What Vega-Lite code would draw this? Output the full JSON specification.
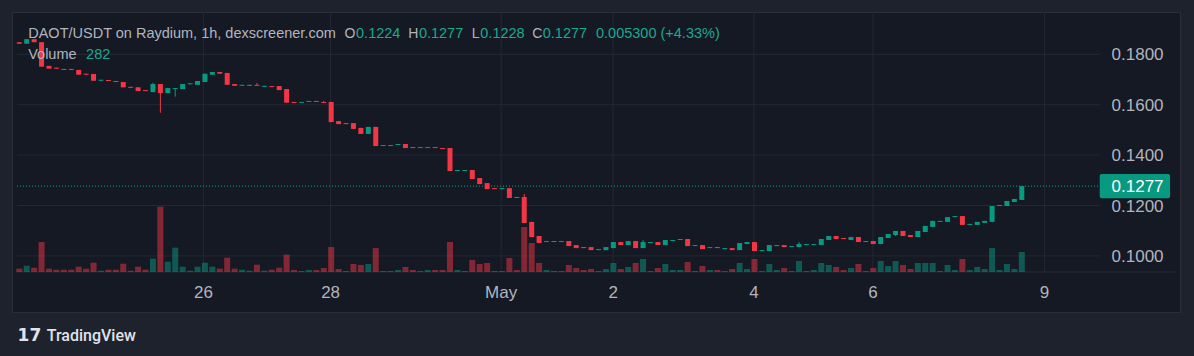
{
  "$schema": "https://vega.github.io/schema/vega-lite/v6.json",
  "width": 1168,
  "height": 300,
  "autosize": {"type": "none"},
  "padding": {"left": 12, "top": 12, "right": 14, "bottom": 44},
  "background": "#1e222d",
  "config": {
    "view": {"fill": "#151924", "stroke": "#2a2e39", "strokeWidth": 1},
    "text": {"font": "Liberation Sans"}
  },
  "datasets": {
    "candles": [
      {"i":1,"o":0.1848,"c":0.1842,"h":0.1848,"l":0.1842,"v":47},
      {"i":2,"o":0.1842,"c":0.1860,"h":0.1860,"l":0.1842,"v":89},
      {"i":3,"o":0.1860,"c":0.1848,"h":0.1860,"l":0.1848,"v":61},
      {"i":4,"o":0.1848,"c":0.1751,"h":0.1848,"l":0.1751,"v":423},
      {"i":5,"o":0.1754,"c":0.1743,"h":0.1754,"l":0.1743,"v":47},
      {"i":6,"o":0.1747,"c":0.1743,"h":0.1747,"l":0.1743,"v":32},
      {"i":7,"o":0.1742,"c":0.1738,"h":0.1742,"l":0.1738,"v":32},
      {"i":8,"o":0.1742,"c":0.1738,"h":0.1742,"l":0.1738,"v":32},
      {"i":9,"o":0.1738,"c":0.1719,"h":0.1738,"l":0.1719,"v":75},
      {"i":10,"o":0.1723,"c":0.1719,"h":0.1723,"l":0.1719,"v":47},
      {"i":11,"o":0.1722,"c":0.1695,"h":0.1722,"l":0.1695,"v":131},
      {"i":12,"o":0.1695,"c":0.1699,"h":0.1699,"l":0.1695,"v":18},
      {"i":13,"o":0.1698,"c":0.1694,"h":0.1698,"l":0.1694,"v":32},
      {"i":14,"o":0.1694,"c":0.1690,"h":0.1694,"l":0.1690,"v":32},
      {"i":15,"o":0.1690,"c":0.1669,"h":0.1690,"l":0.1669,"v":117},
      {"i":16,"o":0.1671,"c":0.1667,"h":0.1671,"l":0.1667,"v":18},
      {"i":17,"o":0.1669,"c":0.1654,"h":0.1669,"l":0.1654,"v":75},
      {"i":18,"o":0.1658,"c":0.1654,"h":0.1658,"l":0.1654,"v":32},
      {"i":19,"o":0.1650,"c":0.1682,"h":0.1687,"l":0.1650,"v":188},
      {"i":20,"o":0.1682,"c":0.1646,"h":0.1682,"l":0.1568,"v":921},
      {"i":21,"o":0.1646,"c":0.1666,"h":0.1666,"l":0.1646,"v":145},
      {"i":22,"o":0.1662,"c":0.1666,"h":0.1666,"l":0.1632,"v":343},
      {"i":23,"o":0.1662,"c":0.1682,"h":0.1682,"l":0.1662,"v":75},
      {"i":24,"o":0.1681,"c":0.1685,"h":0.1685,"l":0.1681,"v":18},
      {"i":25,"o":0.1679,"c":0.1694,"h":0.1694,"l":0.1679,"v":75},
      {"i":26,"o":0.1690,"c":0.1723,"h":0.1723,"l":0.1690,"v":131},
      {"i":27,"o":0.1719,"c":0.1730,"h":0.1730,"l":0.1719,"v":75},
      {"i":28,"o":0.1730,"c":0.1723,"h":0.1730,"l":0.1723,"v":47},
      {"i":29,"o":0.1726,"c":0.1679,"h":0.1726,"l":0.1679,"v":202},
      {"i":30,"o":0.1682,"c":0.1675,"h":0.1682,"l":0.1675,"v":47},
      {"i":31,"o":0.1675,"c":0.1679,"h":0.1679,"l":0.1675,"v":32},
      {"i":32,"o":0.1675,"c":0.1679,"h":0.1679,"l":0.1675,"v":18},
      {"i":33,"o":0.1679,"c":0.1675,"h":0.1686,"l":0.1675,"v":103},
      {"i":34,"o":0.1671,"c":0.1675,"h":0.1675,"l":0.1671,"v":18},
      {"i":35,"o":0.1674,"c":0.1670,"h":0.1674,"l":0.1670,"v":32},
      {"i":36,"o":0.1674,"c":0.1658,"h":0.1674,"l":0.1658,"v":61},
      {"i":37,"o":0.1662,"c":0.1608,"h":0.1662,"l":0.1608,"v":244},
      {"i":38,"o":0.1611,"c":0.1607,"h":0.1611,"l":0.1607,"v":28},
      {"i":39,"o":0.1607,"c":0.1611,"h":0.1611,"l":0.1607,"v":14},
      {"i":40,"o":0.1611,"c":0.1615,"h":0.1615,"l":0.1611,"v":28},
      {"i":41,"o":0.1615,"c":0.1611,"h":0.1615,"l":0.1611,"v":28},
      {"i":42,"o":0.1611,"c":0.1607,"h":0.1615,"l":0.1607,"v":56},
      {"i":43,"o":0.1611,"c":0.1531,"h":0.1611,"l":0.1531,"v":353},
      {"i":44,"o":0.1535,"c":0.1523,"h":0.1535,"l":0.1523,"v":42},
      {"i":45,"o":0.1527,"c":0.1523,"h":0.1527,"l":0.1523,"v":14},
      {"i":46,"o":0.1527,"c":0.1504,"h":0.1527,"l":0.1504,"v":113},
      {"i":47,"o":0.1508,"c":0.1484,"h":0.1508,"l":0.1484,"v":99},
      {"i":48,"o":0.1484,"c":0.1512,"h":0.1512,"l":0.1484,"v":113},
      {"i":49,"o":0.1512,"c":0.1436,"h":0.1512,"l":0.1436,"v":338},
      {"i":50,"o":0.1436,"c":0.1440,"h":0.1440,"l":0.1436,"v":14},
      {"i":51,"o":0.1436,"c":0.1440,"h":0.1440,"l":0.1436,"v":14},
      {"i":52,"o":0.1440,"c":0.1444,"h":0.1444,"l":0.1440,"v":28},
      {"i":53,"o":0.1444,"c":0.1428,"h":0.1444,"l":0.1428,"v":71},
      {"i":54,"o":0.1432,"c":0.1428,"h":0.1432,"l":0.1428,"v":28},
      {"i":55,"o":0.1428,"c":0.1432,"h":0.1432,"l":0.1428,"v":14},
      {"i":56,"o":0.1428,"c":0.1432,"h":0.1432,"l":0.1428,"v":28},
      {"i":57,"o":0.1432,"c":0.1428,"h":0.1432,"l":0.1428,"v":28},
      {"i":58,"o":0.1428,"c":0.1424,"h":0.1428,"l":0.1424,"v":28},
      {"i":59,"o":0.1428,"c":0.1337,"h":0.1428,"l":0.1337,"v":423},
      {"i":60,"o":0.1337,"c":0.1341,"h":0.1341,"l":0.1337,"v":28},
      {"i":61,"o":0.1337,"c":0.1341,"h":0.1341,"l":0.1337,"v":14},
      {"i":62,"o":0.1341,"c":0.1305,"h":0.1341,"l":0.1305,"v":169},
      {"i":63,"o":0.1309,"c":0.1285,"h":0.1309,"l":0.1285,"v":113},
      {"i":64,"o":0.1289,"c":0.1265,"h":0.1289,"l":0.1265,"v":127},
      {"i":65,"o":0.1269,"c":0.1265,"h":0.1269,"l":0.1265,"v":14},
      {"i":66,"o":0.1265,"c":0.1269,"h":0.1269,"l":0.1265,"v":14},
      {"i":67,"o":0.1269,"c":0.1230,"h":0.1269,"l":0.1230,"v":197},
      {"i":68,"o":0.1234,"c":0.1230,"h":0.1234,"l":0.1230,"v":28},
      {"i":69,"o":0.1234,"c":0.1131,"h":0.1246,"l":0.1131,"v":635},
      {"i":70,"o":0.1135,"c":0.1075,"h":0.1135,"l":0.1075,"v":409},
      {"i":71,"o":0.1079,"c":0.1051,"h":0.1079,"l":0.1051,"v":127},
      {"i":72,"o":0.1055,"c":0.1059,"h":0.1059,"l":0.1055,"v":28},
      {"i":73,"o":0.1059,"c":0.1055,"h":0.1059,"l":0.1055,"v":14},
      {"i":74,"o":0.1055,"c":0.1059,"h":0.1059,"l":0.1055,"v":14},
      {"i":75,"o":0.1059,"c":0.1039,"h":0.1059,"l":0.1039,"v":99},
      {"i":76,"o":0.1043,"c":0.1031,"h":0.1043,"l":0.1031,"v":56},
      {"i":77,"o":0.1035,"c":0.1031,"h":0.1035,"l":0.1031,"v":28},
      {"i":78,"o":0.1035,"c":0.1023,"h":0.1035,"l":0.1023,"v":42},
      {"i":79,"o":0.1023,"c":0.1027,"h":0.1027,"l":0.1023,"v":14},
      {"i":80,"o":0.1023,"c":0.1035,"h":0.1035,"l":0.1023,"v":42},
      {"i":81,"o":0.1031,"c":0.1055,"h":0.1055,"l":0.1031,"v":127},
      {"i":82,"o":0.1055,"c":0.1043,"h":0.1055,"l":0.1043,"v":42},
      {"i":83,"o":0.1043,"c":0.1059,"h":0.1059,"l":0.1043,"v":71},
      {"i":84,"o":0.1059,"c":0.1031,"h":0.1059,"l":0.1031,"v":127},
      {"i":85,"o":0.1031,"c":0.1055,"h":0.1063,"l":0.1031,"v":183},
      {"i":86,"o":0.1051,"c":0.1055,"h":0.1055,"l":0.1051,"v":14},
      {"i":87,"o":0.1055,"c":0.1043,"h":0.1055,"l":0.1043,"v":56},
      {"i":88,"o":0.1043,"c":0.1063,"h":0.1063,"l":0.1043,"v":113},
      {"i":89,"o":0.1059,"c":0.1063,"h":0.1063,"l":0.1059,"v":28},
      {"i":90,"o":0.1063,"c":0.1067,"h":0.1067,"l":0.1063,"v":28},
      {"i":91,"o":0.1067,"c":0.1039,"h":0.1067,"l":0.1039,"v":141},
      {"i":92,"o":0.1039,"c":0.1043,"h":0.1043,"l":0.1039,"v":14},
      {"i":93,"o":0.1043,"c":0.1027,"h":0.1043,"l":0.1027,"v":85},
      {"i":94,"o":0.1031,"c":0.1035,"h":0.1035,"l":0.1031,"v":28},
      {"i":95,"o":0.1035,"c":0.1031,"h":0.1035,"l":0.1031,"v":28},
      {"i":96,"o":0.1027,"c":0.1031,"h":0.1031,"l":0.1027,"v":14},
      {"i":97,"o":0.1031,"c":0.1023,"h":0.1031,"l":0.1023,"v":42},
      {"i":98,"o":0.1023,"c":0.1051,"h":0.1051,"l":0.1023,"v":127},
      {"i":99,"o":0.1047,"c":0.1055,"h":0.1055,"l":0.1047,"v":42},
      {"i":100,"o":0.1055,"c":0.1019,"h":0.1055,"l":0.1019,"v":183},
      {"i":101,"o":0.1019,"c":0.1023,"h":0.1023,"l":0.1019,"v":14},
      {"i":102,"o":0.1019,"c":0.1043,"h":0.1043,"l":0.1019,"v":113},
      {"i":103,"o":0.1039,"c":0.1043,"h":0.1043,"l":0.1039,"v":28},
      {"i":104,"o":0.1043,"c":0.1035,"h":0.1043,"l":0.1035,"v":56},
      {"i":105,"o":0.1035,"c":0.1039,"h":0.1039,"l":0.1035,"v":14},
      {"i":106,"o":0.1035,"c":0.1047,"h":0.1055,"l":0.1035,"v":155},
      {"i":107,"o":0.1043,"c":0.1047,"h":0.1047,"l":0.1043,"v":14},
      {"i":108,"o":0.1043,"c":0.1047,"h":0.1047,"l":0.1043,"v":28},
      {"i":109,"o":0.1043,"c":0.1067,"h":0.1067,"l":0.1043,"v":127},
      {"i":110,"o":0.1063,"c":0.1079,"h":0.1079,"l":0.1063,"v":99},
      {"i":111,"o":0.1079,"c":0.1067,"h":0.1079,"l":0.1067,"v":71},
      {"i":112,"o":0.1071,"c":0.1067,"h":0.1071,"l":0.1067,"v":28},
      {"i":113,"o":0.1063,"c":0.1075,"h":0.1075,"l":0.1063,"v":56},
      {"i":114,"o":0.1075,"c":0.1055,"h":0.1075,"l":0.1055,"v":113},
      {"i":115,"o":0.1055,"c":0.1059,"h":0.1059,"l":0.1055,"v":14},
      {"i":116,"o":0.1059,"c":0.1047,"h":0.1059,"l":0.1047,"v":56},
      {"i":117,"o":0.1047,"c":0.1075,"h":0.1075,"l":0.1047,"v":155},
      {"i":118,"o":0.1071,"c":0.1087,"h":0.1087,"l":0.1071,"v":85},
      {"i":119,"o":0.1083,"c":0.1099,"h":0.1099,"l":0.1079,"v":155},
      {"i":120,"o":0.1099,"c":0.1079,"h":0.1099,"l":0.1079,"v":99},
      {"i":121,"o":0.1083,"c":0.1075,"h":0.1083,"l":0.1075,"v":42},
      {"i":122,"o":0.1075,"c":0.1099,"h":0.1099,"l":0.1075,"v":127},
      {"i":123,"o":0.1095,"c":0.1119,"h":0.1119,"l":0.1095,"v":127},
      {"i":124,"o":0.1115,"c":0.1139,"h":0.1139,"l":0.1115,"v":127},
      {"i":125,"o":0.1135,"c":0.1139,"h":0.1139,"l":0.1135,"v":14},
      {"i":126,"o":0.1135,"c":0.1154,"h":0.1154,"l":0.1135,"v":99},
      {"i":127,"o":0.1154,"c":0.1158,"h":0.1158,"l":0.1154,"v":28},
      {"i":128,"o":0.1158,"c":0.1123,"h":0.1158,"l":0.1123,"v":183},
      {"i":129,"o":0.1123,"c":0.1127,"h":0.1127,"l":0.1123,"v":28},
      {"i":130,"o":0.1123,"c":0.1135,"h":0.1135,"l":0.1123,"v":71},
      {"i":131,"o":0.1131,"c":0.1139,"h":0.1139,"l":0.1131,"v":42},
      {"i":132,"o":0.1135,"c":0.1198,"h":0.1198,"l":0.1135,"v":338},
      {"i":133,"o":0.1198,"c":0.1202,"h":0.1202,"l":0.1198,"v":28},
      {"i":134,"o":0.1198,"c":0.1218,"h":0.1218,"l":0.1198,"v":113},
      {"i":135,"o":0.1214,"c":0.1226,"h":0.1226,"l":0.1214,"v":42},
      {"i":136,"o":0.1222,"c":0.1277,"h":0.1277,"l":0.1222,"v":282}
    ],
    "levels": [
      {"p":0.10,"lab":"0.1000"},{"p":0.12,"lab":"0.1200"},{"p":0.14,"lab":"0.1400"},{"p":0.16,"lab":"0.1600"},{"p":0.18,"lab":"0.1800"}
    ],
    "days": [
      {"idx":25.8,"lab":"26"},{"idx":42.92,"lab":"28"},{"idx":65.89,"lab":"May"},{"idx":80.97,"lab":"2"},{"idx":99.93,"lab":"4"},{"idx":115.95,"lab":"6"},{"idx":139.05,"lab":"9"}
    ]
  },
  "resolve": {"scale": {"y": "independent"}},
  "layer": [
    {
      "data": {"name": "levels"},
      "mark": {"type": "rule", "color": "#242835", "strokeWidth": 1},
      "encoding": {
        "y": {"field": "p", "type": "quantitative", "scale": {"domain": [0.07774, 0.19679], "nice": false, "zero": false}, "axis": null},
        "x": {"datum": 0.693, "type": "quantitative", "scale": {"domain": [0.693, 156.63], "nice": false, "zero": false}, "axis": null},
        "x2": {"datum": 146.49}
      }
    },
    {
      "data": {"name": "days"},
      "mark": {"type": "rule", "color": "#242835", "strokeWidth": 1},
      "encoding": {
        "x": {"field": "idx", "type": "quantitative", "scale": {"domain": [0.693, 156.63], "nice": false, "zero": false}, "axis": null},
        "y": {"datum": 0.19679, "type": "quantitative", "scale": {"domain": [0.07774, 0.19679], "nice": false, "zero": false}, "axis": null},
        "y2": {"datum": 0.09361}
      }
    },
    {
      "data": {"values": [{}]},
      "mark": {"type": "rule", "color": "#2a2e39", "strokeWidth": 1},
      "encoding": {
        "y": {"datum": 0.09361, "type": "quantitative", "scale": {"domain": [0.07774, 0.19679], "nice": false, "zero": false}, "axis": null},
        "x": {"datum": 0.693, "type": "quantitative", "scale": {"domain": [0.693, 156.63], "nice": false, "zero": false}, "axis": null},
        "x2": {"datum": 156.63}
      }
    },
    {
      "data": {"name": "candles"},
      "mark": {"type": "bar", "width": 6, "opacity": 0.5},
      "encoding": {
        "x": {"field": "i", "type": "quantitative", "scale": {"domain": [0.693, 156.63], "nice": false, "zero": false}, "axis": null},
        "y": {"field": "v", "type": "quantitative", "scale": {"domain": [-564, 3666], "nice": false, "zero": false}, "axis": null},
        "y2": {"datum": 0},
        "color": {"condition": {"test": "datum.c >= datum.o", "value": "#089981"}, "value": "#f23645"}
      }
    },
    {
      "data": {"values": [{}]},
      "mark": {"type": "rule", "color": "#16a086", "strokeWidth": 1, "strokeDash": [1, 2]},
      "encoding": {
        "y": {"datum": 0.1277, "type": "quantitative", "scale": {"domain": [0.07774, 0.19679], "nice": false, "zero": false}, "axis": null},
        "x": {"datum": 0.693, "type": "quantitative", "scale": {"domain": [0.693, 156.63], "nice": false, "zero": false}, "axis": null},
        "x2": {"datum": 146.49}
      }
    },
    {
      "data": {"name": "candles"},
      "mark": {"type": "rule", "strokeWidth": 1},
      "encoding": {
        "x": {"field": "i", "type": "quantitative", "scale": {"domain": [0.693, 156.63], "nice": false, "zero": false}, "axis": null},
        "y": {"field": "l", "type": "quantitative", "scale": {"domain": [0.07774, 0.19679], "nice": false, "zero": false}, "axis": null},
        "y2": {"field": "h"},
        "color": {"condition": {"test": "datum.c >= datum.o", "value": "#089981"}, "value": "#f23645"}
      }
    },
    {
      "data": {"name": "candles"},
      "mark": {"type": "bar", "width": 5},
      "encoding": {
        "x": {"field": "i", "type": "quantitative", "scale": {"domain": [0.693, 156.63], "nice": false, "zero": false}, "axis": null},
        "y": {"field": "o", "type": "quantitative", "scale": {"domain": [0.07774, 0.19679], "nice": false, "zero": false}, "axis": null},
        "y2": {"field": "c"},
        "color": {"condition": {"test": "datum.c >= datum.o", "value": "#089981"}, "value": "#f23645"}
      }
    },
    {
      "data": {"values": [{"t": "DAOT/USDT on Raydium, 1h, dexscreener.com"}]},
      "mark": {"type": "text", "align": "left", "baseline": "alphabetic", "fontSize": 14.5, "color": "#b2b5be"},
      "encoding": {
        "text": {"field": "t"},
        "x": {"datum": 2.202, "type": "quantitative", "scale": {"domain": [0.693, 156.63], "nice": false, "zero": false}, "axis": null},
        "y": {"datum": 0.18635, "type": "quantitative", "scale": {"domain": [0.07774, 0.19679], "nice": false, "zero": false}, "axis": null}
      }
    },
    {
      "data": {"values": [{"t": "O"}]},
      "mark": {"type": "text", "align": "right", "baseline": "alphabetic", "fontSize": 14, "color": "#b2b5be"},
      "encoding": {
        "text": {"field": "t"},
        "x": {"datum": 46.26, "type": "quantitative", "scale": {"domain": [0.693, 156.63], "nice": false, "zero": false}, "axis": null},
        "y": {"datum": 0.18635, "type": "quantitative", "scale": {"domain": [0.07774, 0.19679], "nice": false, "zero": false}, "axis": null}
      }
    },
    {
      "data": {"values": [{"t": "0.1224"}]},
      "mark": {"type": "text", "align": "left", "baseline": "alphabetic", "fontSize": 14.5, "color": "#1ca88f"},
      "encoding": {
        "text": {"field": "t"},
        "x": {"datum": 46.35, "type": "quantitative", "scale": {"domain": [0.693, 156.63], "nice": false, "zero": false}, "axis": null},
        "y": {"datum": 0.18635, "type": "quantitative", "scale": {"domain": [0.07774, 0.19679], "nice": false, "zero": false}, "axis": null}
      }
    },
    {
      "data": {"values": [{"t": "H"}]},
      "mark": {"type": "text", "align": "right", "baseline": "alphabetic", "fontSize": 14, "color": "#b2b5be"},
      "encoding": {
        "text": {"field": "t"},
        "x": {"datum": 54.74, "type": "quantitative", "scale": {"domain": [0.693, 156.63], "nice": false, "zero": false}, "axis": null},
        "y": {"datum": 0.18635, "type": "quantitative", "scale": {"domain": [0.07774, 0.19679], "nice": false, "zero": false}, "axis": null}
      }
    },
    {
      "data": {"values": [{"t": "0.1277"}]},
      "mark": {"type": "text", "align": "left", "baseline": "alphabetic", "fontSize": 14.5, "color": "#1ca88f"},
      "encoding": {
        "text": {"field": "t"},
        "x": {"datum": 54.81, "type": "quantitative", "scale": {"domain": [0.693, 156.63], "nice": false, "zero": false}, "axis": null},
        "y": {"datum": 0.18635, "type": "quantitative", "scale": {"domain": [0.07774, 0.19679], "nice": false, "zero": false}, "axis": null}
      }
    },
    {
      "data": {"values": [{"t": "L"}]},
      "mark": {"type": "text", "align": "right", "baseline": "alphabetic", "fontSize": 14, "color": "#b2b5be"},
      "encoding": {
        "text": {"field": "t"},
        "x": {"datum": 62.98, "type": "quantitative", "scale": {"domain": [0.693, 156.63], "nice": false, "zero": false}, "axis": null},
        "y": {"datum": 0.18635, "type": "quantitative", "scale": {"domain": [0.07774, 0.19679], "nice": false, "zero": false}, "axis": null}
      }
    },
    {
      "data": {"values": [{"t": "0.1228"}]},
      "mark": {"type": "text", "align": "left", "baseline": "alphabetic", "fontSize": 14.5, "color": "#1ca88f"},
      "encoding": {
        "text": {"field": "t"},
        "x": {"datum": 63.08, "type": "quantitative", "scale": {"domain": [0.693, 156.63], "nice": false, "zero": false}, "axis": null},
        "y": {"datum": 0.18635, "type": "quantitative", "scale": {"domain": [0.07774, 0.19679], "nice": false, "zero": false}, "axis": null}
      }
    },
    {
      "data": {"values": [{"t": "C"}]},
      "mark": {"type": "text", "align": "right", "baseline": "alphabetic", "fontSize": 14, "color": "#b2b5be"},
      "encoding": {
        "text": {"field": "t"},
        "x": {"datum": 71.43, "type": "quantitative", "scale": {"domain": [0.693, 156.63], "nice": false, "zero": false}, "axis": null},
        "y": {"datum": 0.18635, "type": "quantitative", "scale": {"domain": [0.07774, 0.19679], "nice": false, "zero": false}, "axis": null}
      }
    },
    {
      "data": {"values": [{"t": "0.1277"}]},
      "mark": {"type": "text", "align": "left", "baseline": "alphabetic", "fontSize": 14.5, "color": "#1ca88f"},
      "encoding": {
        "text": {"field": "t"},
        "x": {"datum": 71.49, "type": "quantitative", "scale": {"domain": [0.693, 156.63], "nice": false, "zero": false}, "axis": null},
        "y": {"datum": 0.18635, "type": "quantitative", "scale": {"domain": [0.07774, 0.19679], "nice": false, "zero": false}, "axis": null}
      }
    },
    {
      "data": {"values": [{"t": "0.005300 (+4.33%)"}]},
      "mark": {"type": "text", "align": "left", "baseline": "alphabetic", "fontSize": 14.5, "color": "#1ca88f"},
      "encoding": {
        "text": {"field": "t"},
        "x": {"datum": 78.66, "type": "quantitative", "scale": {"domain": [0.693, 156.63], "nice": false, "zero": false}, "axis": null},
        "y": {"datum": 0.18635, "type": "quantitative", "scale": {"domain": [0.07774, 0.19679], "nice": false, "zero": false}, "axis": null}
      }
    },
    {
      "data": {"values": [{"t": "Volume"}]},
      "mark": {"type": "text", "align": "left", "baseline": "alphabetic", "fontSize": 14.5, "color": "#b2b5be"},
      "encoding": {
        "text": {"field": "t"},
        "x": {"datum": 2.202, "type": "quantitative", "scale": {"domain": [0.693, 156.63], "nice": false, "zero": false}, "axis": null},
        "y": {"datum": 0.17814, "type": "quantitative", "scale": {"domain": [0.07774, 0.19679], "nice": false, "zero": false}, "axis": null}
      }
    },
    {
      "data": {"values": [{"t": "282"}]},
      "mark": {"type": "text", "align": "left", "baseline": "alphabetic", "fontSize": 14.5, "color": "#1ca88f"},
      "encoding": {
        "text": {"field": "t"},
        "x": {"datum": 10.0, "type": "quantitative", "scale": {"domain": [0.693, 156.63], "nice": false, "zero": false}, "axis": null},
        "y": {"datum": 0.17814, "type": "quantitative", "scale": {"domain": [0.07774, 0.19679], "nice": false, "zero": false}, "axis": null}
      }
    },
    {
      "data": {"name": "levels"},
      "mark": {"type": "text", "align": "left", "baseline": "middle", "dy": 1, "fontSize": 17, "color": "#b2b5be"},
      "encoding": {
        "text": {"field": "lab"},
        "y": {"field": "p", "type": "quantitative", "scale": {"domain": [0.07774, 0.19679], "nice": false, "zero": false}, "axis": null},
        "x": {"datum": 148.09, "type": "quantitative", "scale": {"domain": [0.693, 156.63], "nice": false, "zero": false}, "axis": null}
      }
    },
    {
      "data": {"values": [{}]},
      "mark": {"type": "rect", "color": "#089981", "cornerRadius": 2},
      "encoding": {
        "x": {"datum": 146.49, "type": "quantitative", "scale": {"domain": [0.693, 156.63], "nice": false, "zero": false}, "axis": null},
        "x2": {"datum": 155.97},
        "y": {"datum": 0.1325, "type": "quantitative", "scale": {"domain": [0.07774, 0.19679], "nice": false, "zero": false}, "axis": null},
        "y2": {"datum": 0.12286}
      }
    },
    {
      "data": {"values": [{"t": "0.1277"}]},
      "mark": {"type": "text", "align": "left", "baseline": "middle", "dy": 1, "fontSize": 17, "color": "#ffffff"},
      "encoding": {
        "text": {"field": "t"},
        "x": {"datum": 148.09, "type": "quantitative", "scale": {"domain": [0.693, 156.63], "nice": false, "zero": false}, "axis": null},
        "y": {"datum": 0.1277, "type": "quantitative", "scale": {"domain": [0.07774, 0.19679], "nice": false, "zero": false}, "axis": null}
      }
    },
    {
      "data": {"name": "days"},
      "mark": {"type": "text", "align": "center", "baseline": "alphabetic", "fontSize": 17, "color": "#b2b5be"},
      "encoding": {
        "text": {"field": "lab"},
        "x": {"field": "idx", "type": "quantitative", "scale": {"domain": [0.693, 156.63], "nice": false, "zero": false}, "axis": null},
        "y": {"datum": 0.08318, "type": "quantitative", "scale": {"domain": [0.07774, 0.19679], "nice": false, "zero": false}, "axis": null}
      }
    },
    {
      "data": {"values": [{"t": "17"}]},
      "mark": {"type": "text", "align": "left", "baseline": "alphabetic", "fontSize": 17, "font": "DejaVu Sans", "fontWeight": "bold", "color": "#e0e3eb"},
      "encoding": {
        "text": {"field": "t"},
        "x": {"datum": 0.773, "type": "quantitative", "scale": {"domain": [0.693, 156.63], "nice": false, "zero": false}, "axis": null},
        "y": {"datum": 0.06643, "type": "quantitative", "scale": {"domain": [0.07774, 0.19679], "nice": false, "zero": false}, "axis": null}
      }
    },
    {
      "data": {"values": [{"t": "TradingView"}]},
      "mark": {"type": "text", "align": "left", "baseline": "alphabetic", "fontSize": 16, "font": "Roboto", "fontWeight": 500, "color": "#e0e3eb"},
      "encoding": {
        "text": {"field": "t"},
        "x": {"datum": 4.698, "type": "quantitative", "scale": {"domain": [0.693, 156.63], "nice": false, "zero": false}, "axis": null},
        "y": {"datum": 0.06643, "type": "quantitative", "scale": {"domain": [0.07774, 0.19679], "nice": false, "zero": false}, "axis": null}
      }
    }
  ]
}
